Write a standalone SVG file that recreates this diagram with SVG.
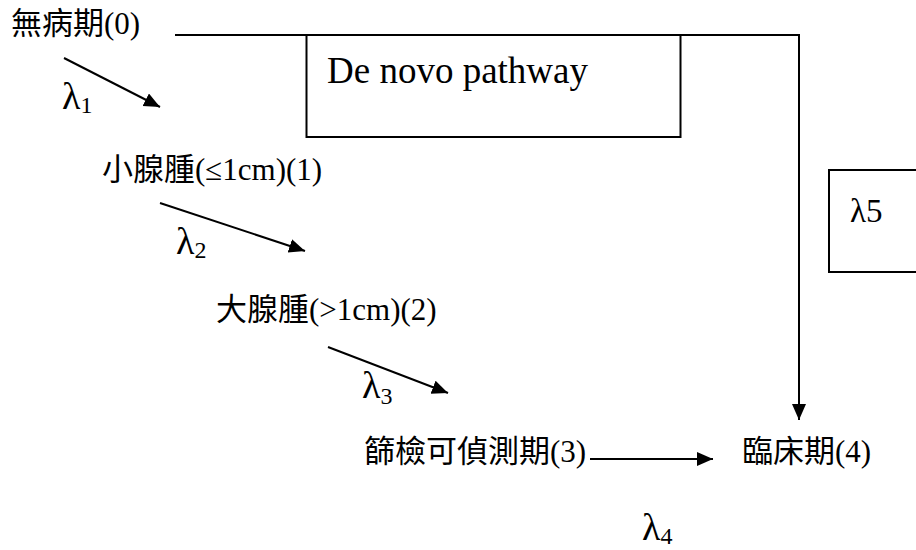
<svg xmlns="http://www.w3.org/2000/svg" width="916" height="550" viewBox="0 0 916 550">
<style>
  .t { font-family: "Liberation Serif", "Noto Sans CJK TC", serif; font-size: 31px; fill: #000; }
  .lam { font-family: "Liberation Serif", "DejaVu Serif", serif; font-size: 38px; fill: #000; }
  .sub { font-size: 24px; }
  .ln { stroke: #000; stroke-width: 2; fill: none; }
  .box { stroke: #000; stroke-width: 2; fill: #fff; }
</style>
<defs>
  <marker id="ah" markerUnits="userSpaceOnUse" markerWidth="17" markerHeight="15" refX="16" refY="7" orient="auto">
    <path d="M0,0 L16,7 L0,14 z" fill="#000"/>
  </marker>
</defs>

<g id="connectors">
  <polyline class="ln" points="175,35 799,35 799,420" marker-end="url(#ah)"/>
  <line class="ln" x1="64" y1="58" x2="160" y2="107" marker-end="url(#ah)"/>
  <line class="ln" x1="160" y1="203" x2="305" y2="251" marker-end="url(#ah)"/>
  <line class="ln" x1="328" y1="347" x2="448" y2="393" marker-end="url(#ah)"/>
  <line class="ln" x1="590" y1="459" x2="713" y2="459" marker-end="url(#ah)"/>
</g>

<g id="denovo">
  <rect class="box" x="306.5" y="35" width="374" height="102"/>
  <text class="t" x="327" y="83" style="font-size:37px">De novo pathway</text>
</g>

<g id="lambda5">
  <rect class="box" x="829" y="170" width="100" height="102"/>
  <text class="t" x="850" y="222" style="font-size:33px">λ5</text>
</g>

<g id="s0"><text class="t" x="11" y="34">無病期(0)</text></g>
<g id="s1"><text class="t" x="102" y="180">小腺腫(≤1cm)(1)</text></g>
<g id="s2"><text class="t" x="216" y="320">大腺腫(&gt;1cm)(2)</text></g>
<g id="s3"><text class="t" x="364" y="462">篩檢可偵測期(3)</text></g>
<g id="s4"><text class="t" x="742" y="462">臨床期(4)</text></g>

<g id="labels">
  <text class="lam" x="62" y="109">λ<tspan class="sub" dy="4">1</tspan></text>
  <text class="lam" x="176" y="254">λ<tspan class="sub" dy="4">2</tspan></text>
  <text class="lam" x="362" y="398">λ<tspan class="sub" dy="6">3</tspan></text>
  <text class="lam" x="642" y="540">λ<tspan class="sub" dy="4">4</tspan></text>
</g>
</svg>
